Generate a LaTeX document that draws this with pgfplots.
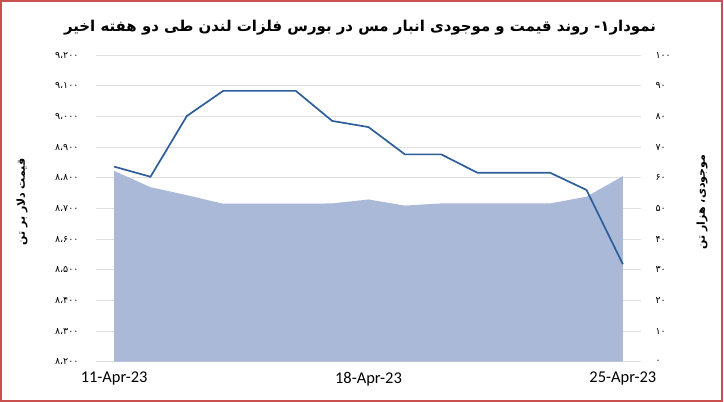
\documentclass[border=0pt]{standalone}
\usepackage{pgfplots}
\pgfplotsset{compat=1.18}
\usepackage{fontspec}
\setmainfont{Carlito}
\newfontfamily\fa[Script=Arabic]{DejaVu Sans}
\TeXXeTstate=1
\definecolor{linecol}{HTML}{2E5E99}
\definecolor{areacol}{HTML}{A9B9D7}
\definecolor{gridcol}{HTML}{DEDEDE}
\definecolor{framecol}{HTML}{C9504F}
\begin{document}
\begin{tikzpicture}
  \pgfplotsset{
    base/.style={
      at={(96bp,40.3bp)}, anchor=south west,
      scale only axis, width=545bp, height=306.7bp,
      xmin=-0.5, xmax=14.5,
      axis line style={draw=none},
      tick style={draw=none},
    }
  }
  % stock (area) on the right axis, drawn first so the line sits on top
  \begin{axis}[base,
    ymin=0, ymax=100,
    ytick={0,10,...,100},
    yticklabels={۰,۱۰,۲۰,۳۰,۴۰,۵۰,۶۰,۷۰,۸۰,۹۰,۱۰۰},
    yticklabel pos=right,
    yticklabel style={font=\fa\fontsize{9.5}{11}\selectfont, anchor=west, xshift=11bp},
    ymajorgrids, grid style={gridcol, line width=0.9bp},
    xtick={0,7,14},
    xticklabels={11-Apr-23,18-Apr-23,25-Apr-23},
    xticklabel style={font=\fontsize{16.5}{18}\selectfont, yshift=-7bp},
    ]
    \addplot[fill=areacol, draw=none] coordinates {
      (0,62.2) (1,56.9) (2,54.3) (3,51.5) (4,51.5) (5,51.5) (6,51.6) (7,52.9)
      (8,50.9) (9,51.6) (10,51.6) (11,51.6) (12,51.6) (13,53.8) (14,60.5)
    } \closedcycle;
  \end{axis}
  % price on the left axis
  \begin{axis}[base,
    ymin=8200, ymax=9200,
    ytick={8200,8300,...,9200},
    yticklabels={۸،۲۰۰,۸،۳۰۰,۸،۴۰۰,۸،۵۰۰,۸،۶۰۰,۸،۷۰۰,۸،۸۰۰,۸،۹۰۰,۹،۰۰۰,۹،۱۰۰,۹،۲۰۰},
    yticklabel style={font=\fa\fontsize{9.5}{11}\selectfont, anchor=east, xshift=-14bp},
    xtick=\empty,
    ]
    \addplot[linecol, line width=1.7bp] coordinates {
      (0,8836) (1,8803) (2,9001) (3,9083) (4,9083) (5,9083) (6,8985) (7,8965)
      (8,8876) (9,8876) (10,8816) (11,8816) (12,8816) (13,8760) (14,8518)
    };
  \end{axis}
  \node at (360bp,374bp) {\fa\bfseries\fontsize{15}{18}\selectfont\beginR نمودار۱- روند قیمت و موجودی انبار مس در بورس فلزات لندن طی دو هفته اخیر\endR};
  \node[rotate=90] at (22bp,200bp) {\fa\bfseries\fontsize{11}{13}\selectfont\beginR قیمت دلار بر تن\endR};
  \node[rotate=90] at (702bp,200bp) {\fa\bfseries\fontsize{11}{13}\selectfont\beginR موجودی، هزار تن\endR};
  \draw[framecol, line width=2bp] (1bp,1bp) rectangle (722bp,401bp);
  \pgfresetboundingbox
  \path (0,0) rectangle (724bp,402bp);
\end{tikzpicture}
\end{document}
